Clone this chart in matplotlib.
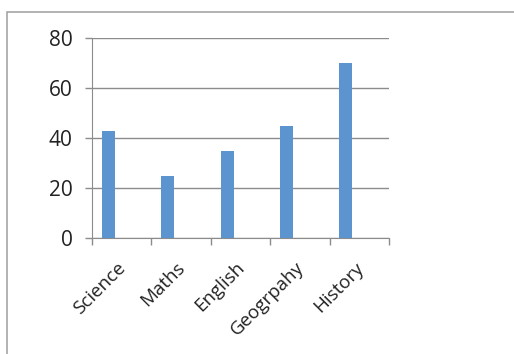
import matplotlib
matplotlib.use("Agg")
import matplotlib.pyplot as plt
import matplotlib.transforms as mtransforms
import numpy as np
from matplotlib.patches import Rectangle

categories = ["Science", "Maths", "English", "Geogrpahy", "History"]
values = [43, 25, 35, 45, 70]
yticks = [0, 20, 40, 60, 80]

plt.rcParams['font.family'] = ['Open Sans', 'DejaVu Sans']

fig = plt.figure(figsize=(5.14, 3.54), dpi=100)
fig.patch.set_facecolor("white")

# outer chart border (extends past the image on right/bottom)
fig.patches.append(Rectangle((7/514, -0.1), 1.2, (354-12)/354 + 0.1,
                             transform=fig.transFigure, fill=False,
                             edgecolor="#a6a6a6", linewidth=1.2))

ax = fig.add_axes([92/514, (354-238)/354, (389-92)/514, 200/354])
x = np.arange(len(categories))
ax.bar(x - 0.225, values, width=0.22, color="#5b94cf", zorder=3)

ax.set_xlim(-0.5, len(categories) - 0.5)
ax.set_ylim(0, 80)
ax.set_yticks(yticks)
ax.set_yticklabels([str(v) for v in yticks], fontsize=15, color="#222222")
ax.yaxis.grid(True, color="#8c8c8c", linewidth=1.0, zorder=0)
ax.tick_params(axis="y", length=5, color="#8c8c8c", width=1.0, pad=9)

ax.set_xticks(x)
ax.set_xticklabels(categories, rotation=45, ha="right", rotation_mode="anchor",
                   fontsize=13.5, color="#222222")
ax.tick_params(axis="x", which="major", length=0, pad=15)
offset = mtransforms.ScaledTranslation(-5/100, 0, fig.dpi_scale_trans)
for lbl in ax.get_xticklabels():
    lbl.set_transform(lbl.get_transform() + offset)
ax.set_xticks(np.arange(len(categories) + 1) - 0.5, minor=True)
ax.tick_params(axis="x", which="minor", length=5, color="#8c8c8c", width=1.0)

for s in ["top", "right"]:
    ax.spines[s].set_visible(False)
ax.spines["left"].set_color("#8c8c8c")
ax.spines["bottom"].set_color("#8c8c8c")
ax.set_axisbelow(True)

fig.savefig("out.png", dpi=100)
